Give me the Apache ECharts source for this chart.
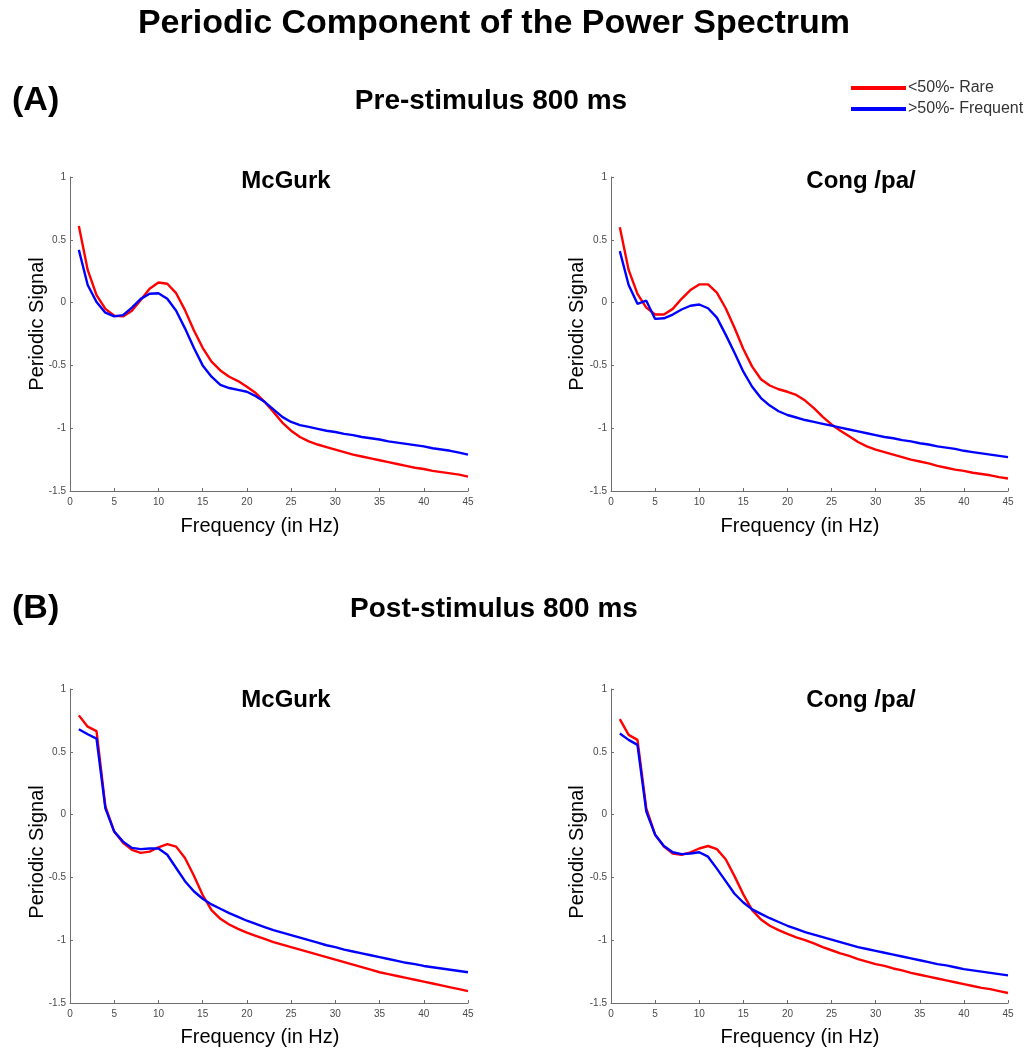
<!DOCTYPE html>
<html>
<head>
<meta charset="utf-8">
<title>Periodic Component of the Power Spectrum</title>
<script src="https://cdn.jsdelivr.net/npm/echarts@6/dist/echarts.min.js"></script>
<style>
  html, body { margin: 0; padding: 0; background: #ffffff; }
  #chart { width: 1034px; height: 1051px; }
</style>
</head>
<body>
<div id="chart"></div>
<script>
// Frequency bins (Hz)
var freqs = [1, 2, 3, 4, 5, 6, 7, 8, 9, 10, 11, 12, 13, 14, 15, 16, 17, 18, 19, 20,
             21, 22, 23, 24, 25, 26, 27, 28, 29, 30, 31, 32, 33, 34, 35, 36, 37, 38, 39, 40,
             41, 42, 43, 44, 45];

// (A) Pre-stimulus 800 ms, McGurk
var preMcGurkRare = [0.61, 0.26, 0.06, -0.05, -0.105, -0.11, -0.065, 0.02, 0.11, 0.16,
  0.15, 0.075, -0.06, -0.22, -0.36, -0.47, -0.54, -0.59, -0.625, -0.67,
  -0.72, -0.79, -0.87, -0.955, -1.02, -1.07, -1.105, -1.13, -1.15, -1.17,
  -1.19, -1.21, -1.225, -1.24, -1.255, -1.27, -1.285, -1.30, -1.315, -1.325,
  -1.34, -1.35, -1.36, -1.37, -1.385];
var preMcGurkFrequent = [0.42, 0.14, 0.005, -0.08, -0.11, -0.10, -0.04, 0.03, 0.07, 0.075,
  0.03, -0.065, -0.205, -0.36, -0.50, -0.59, -0.655, -0.68, -0.695, -0.71,
  -0.745, -0.79, -0.85, -0.91, -0.95, -0.975, -0.99, -1.005, -1.02, -1.03,
  -1.045, -1.055, -1.07, -1.08, -1.09, -1.105, -1.115, -1.125, -1.135, -1.145,
  -1.16, -1.17, -1.18, -1.195, -1.21];

// (A) Pre-stimulus 800 ms, Cong /pa/
var preCongRare = [0.60, 0.26, 0.07, -0.04, -0.095, -0.095, -0.05, 0.03, 0.10, 0.145,
  0.145, 0.08, -0.045, -0.20, -0.37, -0.51, -0.61, -0.66, -0.69, -0.71,
  -0.735, -0.78, -0.84, -0.91, -0.97, -1.02, -1.065, -1.11, -1.145, -1.17,
  -1.19, -1.21, -1.23, -1.25, -1.265, -1.28, -1.30, -1.315, -1.33, -1.34,
  -1.355, -1.365, -1.375, -1.39, -1.40];
var preCongFrequent = [0.41, 0.14, -0.01, 0.015, -0.13, -0.125, -0.095, -0.055, -0.025, -0.015,
  -0.045, -0.12, -0.255, -0.40, -0.55, -0.67, -0.76, -0.82, -0.865, -0.895,
  -0.915, -0.935, -0.95, -0.965, -0.98, -0.995, -1.01, -1.025, -1.04, -1.055,
  -1.07, -1.08, -1.095, -1.105, -1.12, -1.13, -1.145, -1.155, -1.165, -1.18,
  -1.19, -1.20, -1.21, -1.22, -1.23];

// (B) Post-stimulus 800 ms, McGurk
var postMcGurkRare = [0.79, 0.70, 0.665, 0.065, -0.135, -0.225, -0.28, -0.305, -0.295, -0.26,
  -0.235, -0.255, -0.345, -0.485, -0.64, -0.76, -0.83, -0.875, -0.91, -0.94,
  -0.965, -0.99, -1.015, -1.035, -1.055, -1.075, -1.095, -1.115, -1.135, -1.155,
  -1.175, -1.195, -1.215, -1.235, -1.255, -1.27, -1.285, -1.30, -1.315, -1.33,
  -1.345, -1.36, -1.375, -1.39, -1.405];
var postMcGurkFrequent = [0.68, 0.64, 0.605, 0.05, -0.135, -0.215, -0.265, -0.275, -0.27, -0.27,
  -0.32, -0.425, -0.53, -0.61, -0.67, -0.715, -0.75, -0.785, -0.815, -0.845,
  -0.87, -0.895, -0.92, -0.94, -0.96, -0.98, -1.0, -1.02, -1.04, -1.055,
  -1.075, -1.09, -1.105, -1.12, -1.135, -1.15, -1.165, -1.18, -1.19, -1.205,
  -1.215, -1.225, -1.235, -1.245, -1.255];

// (B) Post-stimulus 800 ms, Cong /pa/
var postCongRare = [0.76, 0.635, 0.595, 0.05, -0.16, -0.255, -0.31, -0.32, -0.30, -0.27,
  -0.25, -0.275, -0.355, -0.49, -0.635, -0.76, -0.835, -0.885, -0.92, -0.95,
  -0.977, -1.0, -1.025, -1.055, -1.08, -1.105, -1.125, -1.15, -1.17, -1.19,
  -1.205, -1.225, -1.24, -1.26, -1.275, -1.29, -1.305, -1.32, -1.335, -1.35,
  -1.365, -1.38, -1.39, -1.405, -1.42];
var postCongFrequent = [0.645, 0.595, 0.555, 0.025, -0.16, -0.25, -0.30, -0.315, -0.31, -0.30,
  -0.335, -0.43, -0.53, -0.63, -0.70, -0.755, -0.79, -0.825, -0.855, -0.885,
  -0.91, -0.935, -0.955, -0.975, -0.995, -1.015, -1.035, -1.055, -1.07, -1.085,
  -1.10, -1.115, -1.13, -1.145, -1.16, -1.175, -1.19, -1.20, -1.215, -1.23,
  -1.24, -1.25, -1.26, -1.27, -1.28];

var rareName = '<50%- Rare';
var frequentName = '>50%- Frequent';
var panelTitles = ['McGurk', 'Cong /pa/', 'McGurk', 'Cong /pa/'];
var xTitle = 'Frequency (in Hz)';
var yTitle = 'Periodic Signal';

var FONT = "'Liberation Sans', Arial, Helvetica, sans-serif";
var RED = '#ff0000';
var BLUE = '#0000ff';

// Plot-area boxes for the four panels
var grids = [
  { left: 70,  top: 177, width: 398, height: 314 },
  { left: 611, top: 177, width: 397, height: 314 },
  { left: 70,  top: 689, width: 398, height: 314 },
  { left: 611, top: 689, width: 397, height: 314 }
];

var panelData = [
  [preMcGurkRare, preMcGurkFrequent],
  [preCongRare, preCongFrequent],
  [postMcGurkRare, postMcGurkFrequent],
  [postCongRare, postCongFrequent]
];

function pairs(values) {
  return freqs.map(function (f, i) { return [f, values[i]]; });
}

var axisLineStyle = { color: '#6e6e6e', width: 1 };

var xAxes = grids.map(function (g, i) {
  return {
    type: 'value', gridIndex: i, min: 0, max: 45, interval: 5,
    axisLine: { show: true, onZero: false, lineStyle: axisLineStyle },
    axisTick: { show: true, inside: true, length: 3, lineStyle: axisLineStyle },
    axisLabel: { fontSize: 10, color: '#4a4a4a', fontFamily: FONT, margin: 6 },
    splitLine: { show: false }
  };
});
var yAxes = grids.map(function (g, i) {
  return {
    type: 'value', gridIndex: i, min: -1.5, max: 1, interval: 0.5,
    axisLine: { show: true, onZero: false, lineStyle: axisLineStyle },
    axisTick: { show: true, inside: true, length: 3, lineStyle: axisLineStyle },
    axisLabel: { fontSize: 10, color: '#4a4a4a', fontFamily: FONT, margin: 4 },
    splitLine: { show: false }
  };
});

var series = [];
panelData.forEach(function (pd, i) {
  series.push({
    name: rareName, type: 'line', xAxisIndex: i, yAxisIndex: i,
    data: pairs(pd[0]), showSymbol: false, smooth: false,
    lineStyle: { color: RED, width: 2.4 }, itemStyle: { color: RED }, z: 2
  });
  series.push({
    name: frequentName, type: 'line', xAxisIndex: i, yAxisIndex: i,
    data: pairs(pd[1]), showSymbol: false, smooth: false,
    lineStyle: { color: BLUE, width: 2.4 }, itemStyle: { color: BLUE }, z: 3
  });
});

function label(text, x, y, size, bold, opts) {
  opts = opts || {};
  return {
    type: 'text', x: x, y: y, rotation: opts.rotation || 0,
    style: {
      text: text, fontSize: size, fontWeight: bold ? 'bold' : 'normal',
      fontFamily: FONT, fill: '#000',
      textAlign: opts.align || 'center', textVerticalAlign: 'middle'
    }
  };
}

var graphics = [
  label('Periodic Component of the Power Spectrum', 494, 24, 34, true),
  label('(A)', 12, 101, 34, true, { align: 'left' }),
  label('Pre-stimulus 800 ms', 491, 101, 28, true),
  label('(B)', 12, 609, 34, true, { align: 'left' }),
  label('Post-stimulus 800 ms', 494, 609, 28, true),
  label(panelTitles[0], 286, 181, 24, true),
  label(panelTitles[1], 861, 181, 24, true),
  label(panelTitles[2], 286, 700, 24, true),
  label(panelTitles[3], 861, 700, 24, true),
  label(yTitle, 37, 324, 20, false, { rotation: Math.PI / 2 }),
  label(yTitle, 577, 324, 20, false, { rotation: Math.PI / 2 }),
  label(yTitle, 37, 852, 20, false, { rotation: Math.PI / 2 }),
  label(yTitle, 577, 852, 20, false, { rotation: Math.PI / 2 }),
  label(xTitle, 260, 526, 20, false),
  label(xTitle, 800, 526, 20, false),
  label(xTitle, 260, 1037, 20, false),
  label(xTitle, 800, 1037, 20, false)
];

var chart = echarts.init(document.getElementById('chart'), null, { renderer: 'canvas' });
chart.setOption({
  backgroundColor: '#ffffff',
  animation: false,
  grid: grids.map(function (g) {
    return { left: g.left, top: g.top, width: g.width, height: g.height, containLabel: false };
  }),
  xAxis: xAxes,
  yAxis: yAxes,
  legend: {
    data: [rareName, frequentName],
    orient: 'vertical',
    left: 846, top: 75,
    icon: 'rect', itemWidth: 55, itemHeight: 4, itemGap: 5,
    textStyle: { fontSize: 16, color: '#333', fontFamily: FONT, padding: [0, 0, 0, -3] },
    selectedMode: false
  },
  graphic: graphics,
  series: series
});
</script>
</body>
</html>
